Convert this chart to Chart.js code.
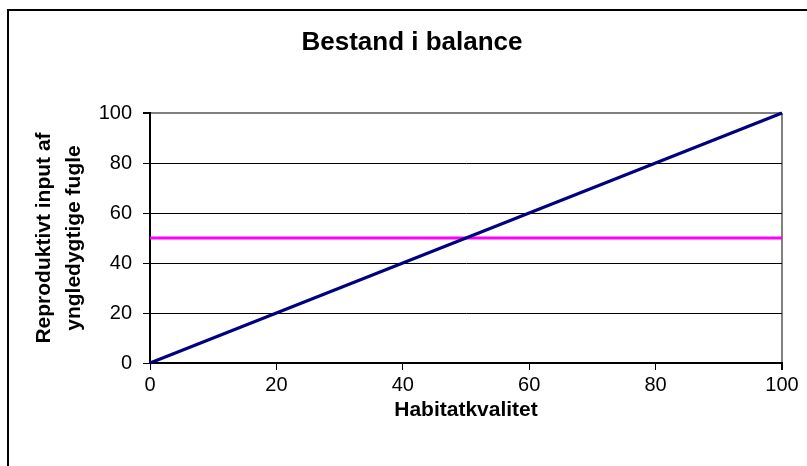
<!DOCTYPE html>
<html>
<head>
<meta charset="utf-8">
<script src="https://cdn.jsdelivr.net/npm/chart.js@4"></script>
<style>
  html, body { margin: 0; padding: 0; background: #fff; }
  #wrap { width: 807px; height: 466px; }
</style>
</head>
<body>
<div id="wrap"><canvas id="chart" width="807" height="466"></canvas></div>
<script>
// ==================== DATA ====================
const chartTitle = 'Bestand i balance';
const xTitle = 'Habitatkvalitet';
const yTitle = ['Reproduktivt input af', 'yngledygtige fugle'];

const habitatX = [0, 100];
const reproduktivY = [0, 100];
const balanceX = [0, 100];
const balanceY = [50, 50];

const xTicks = [0, 20, 40, 60, 80, 100];
const yTicks = [0, 20, 40, 60, 80, 100];

const FONT = "'Liberation Sans', Arial, sans-serif";

// frame + title drawn around the chart (Excel style)
const framePlugin = {
  id: 'frame',
  beforeDraw(chart) {
    const c = chart.ctx;
    c.save();
    c.fillStyle = '#fff';
    c.fillRect(0, 0, chart.width, chart.height);
    c.strokeStyle = '#000';
    c.lineWidth = 2;
    c.beginPath();
    c.moveTo(8, chart.height + 2);
    c.lineTo(8, 10);
    c.lineTo(chart.width + 2, 10);
    c.stroke();
    c.restore();
  },
  afterDraw(chart) {
    const c = chart.ctx;
    c.save();
    c.fillStyle = '#000';
    c.font = `bold 26px ${FONT}`;
    c.textAlign = 'center';
    c.textBaseline = 'alphabetic';
    c.fillText(chartTitle, 412, 50);
    c.restore();
  }
};

const toPoints = (xs, ys) => xs.map((x, i) => ({ x, y: ys[i] }));

new Chart(document.getElementById('chart'), {
  type: 'line',
  data: {
    datasets: [
      {
        label: 'Reproduktivt input',
        data: toPoints(habitatX, reproduktivY),
        borderColor: '#000080',
        borderWidth: 3,
        pointRadius: 0,
        tension: 0,
        clip: false
      },
      {
        label: 'Balance',
        data: toPoints(balanceX, balanceY),
        borderColor: '#FF00FF',
        borderWidth: 3,
        pointRadius: 0,
        tension: 0,
        clip: false
      }
    ]
  },
  options: {
    responsive: false,
    animation: false,
    devicePixelRatio: 1,
    layout: { padding: { left: 10, right: 25, top: 113, bottom: 0 } },
    plugins: {
      legend: { display: false },
      tooltip: { enabled: false }
    },
    scales: {
      x: {
        type: 'linear',
        min: 0,
        max: 100,
        afterBuildTicks: s => { s.ticks = xTicks.map(v => ({ value: v })); },
        afterFit: s => { s.height = 103; },
        ticks: { color: '#000', font: { size: 20, family: FONT }, padding: 3, maxRotation: 0 },
        grid: {
          color: ctx => ctx.tick && ctx.tick.value === 100 ? '#808080' : 'rgba(0,0,0,0)',
          lineWidth: ctx => ctx.tick && ctx.tick.value === 100 ? 2 : 1,
          tickColor: '#000',
          tickLength: 7
        },
        border: { color: '#000', width: 2 },
        title: {
          display: true,
          text: xTitle,
          color: '#000',
          font: { size: 21, weight: 'bold', family: FONT },
          padding: { top: 0, bottom: 43 }
        }
      },
      y: {
        min: 0,
        max: 100,
        afterBuildTicks: s => { s.ticks = yTicks.map(v => ({ value: v })); },
        afterFit: s => { s.width = 140; },
        ticks: { color: '#000', font: { size: 20, family: FONT }, padding: 11 },
        grid: {
          color: ctx => ctx.tick && ctx.tick.value === 100 ? '#808080' : '#000',
          lineWidth: ctx => ctx.tick && ctx.tick.value === 100 ? 2 : 1,
          tickColor: '#000',
          tickLength: 7
        },
        border: { color: '#000', width: 2 },
        title: {
          display: true,
          text: yTitle,
          color: '#000',
          font: { size: 21, weight: 'bold', family: FONT, lineHeight: 1.43 },
          padding: { top: 19, bottom: 0 }
        }
      }
    }
  },
  plugins: [framePlugin]
});
</script>
</body>
</html>
